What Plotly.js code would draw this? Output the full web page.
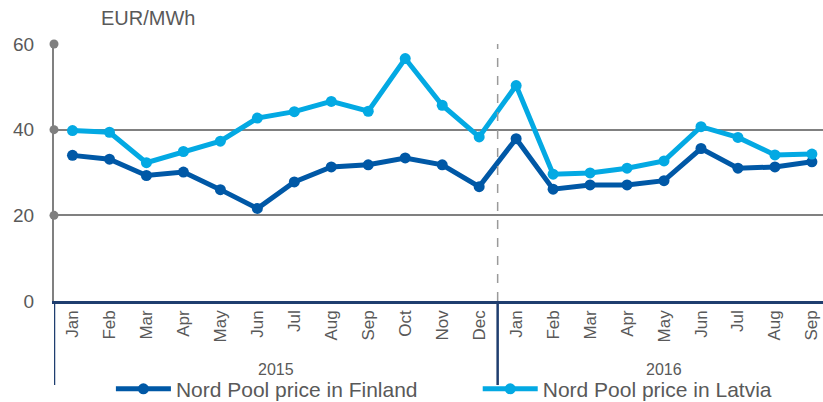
<!DOCTYPE html>
<html>
<head>
<meta charset="utf-8">
<script src="https://cdn.plot.ly/plotly-3.0.1.min.js"></script>
<style>html,body{margin:0;padding:0;background:#fff;}#chart{width:823px;height:402px;}</style>
</head>
<body>
<div id="chart"></div>
<script>
const months = ["Jan","Feb","Mar","Apr","May","Jun","Jul","Aug","Sep","Oct","Nov","Dec",
                "Jan","Feb","Mar","Apr","May","Jun","Jul","Aug","Sep"];
const years = ["2015","2016"];
const finland = [34.0,33.1,29.3,30.1,26.0,21.6,27.8,31.3,31.8,33.4,31.8,26.7,
                 37.9,26.1,27.1,27.1,28.1,35.6,31.0,31.3,32.5];
const latvia  = [39.8,39.4,32.3,34.9,37.3,42.7,44.2,46.6,44.3,56.6,45.7,38.3,
                 50.3,29.6,29.9,31.0,32.7,40.7,38.2,34.1,34.3];
const yTicks = [0,20,40,60];
const unit = "EUR/MWh";

const idx = months.map((m,i)=>i);
const gray = "#595959";
const navy = "#1F3E6F";

const traces = [
  {x: idx, y: finland, name: "Nord Pool price in Finland", mode: "lines+markers", legend: "legend",
   line: {color: "#0058A6", width: 5}, marker: {color: "#0058A6", size: 11}},
  {x: idx, y: latvia, name: "Nord Pool price in Latvia", mode: "lines+markers", legend: "legend2",
   line: {color: "#03A9E3", width: 5}, marker: {color: "#03A9E3", size: 11}},
  {x: yTicks.slice(1).map(()=>-0.5), y: yTicks.slice(1), mode: "markers", showlegend: false,
   hoverinfo: "skip", cliponaxis: false, marker: {color: "#7f7f7f", size: 9}}
];

const legendBase = {orientation: "h", xanchor: "left", yref: "container", y: 0.032, yanchor: "middle",
                    font: {size: 21, color: gray}, itemwidth: 55, bgcolor: "rgba(0,0,0,0)"};

const layout = {
  width: 823, height: 402,
  margin: {l: 54, r: 0, t: 44, b: 101},
  paper_bgcolor: "#fff", plot_bgcolor: "#fff",
  font: {family: "Liberation Sans, Arial, sans-serif", color: gray},
  showlegend: true,
  legend: Object.assign({}, legendBase, {x: 0.074}),
  legend2: Object.assign({}, legendBase, {x: 0.551}),
  xaxis: {range: [-0.5, 20.3], tickmode: "array", tickvals: idx, ticktext: months, tickangle: -90,
          tickfont: {size: 17, color: gray}, showgrid: false, zeroline: false,
          showline: true, linecolor: navy, linewidth: 2.5, ticks: "", fixedrange: true},
  yaxis: {range: [0, 60], tickvals: yTicks, ticktext: yTicks.map(String), showgrid: true,
          gridcolor: "#808080", gridwidth: 2, zeroline: false, showline: true, linecolor: "#808080",
          linewidth: 2, ticks: "", ticklabelstandoff: 14, tickfont: {size: 19, color: gray}, fixedrange: true},
  shapes: [
    {type: "line", xref: "x", yref: "y", x0: 11.5, x1: 11.5, y0: 0, y1: 60,
     line: {color: "#9a9a9a", width: 1.5, dash: "dash"}},
    {type: "line", xref: "x", yref: "paper", x0: -0.5, x1: -0.5, y0: 0, y1: -0.327,
     line: {color: navy, width: 2.5}},
    {type: "line", xref: "x", yref: "paper", x0: 11.5, x1: 11.5, y0: 0, y1: -0.327,
     line: {color: navy, width: 2.5}}
  ],
  annotations: [
    {text: unit, xref: "paper", yref: "paper", x: 0.058, y: 1.101, xanchor: "left", yanchor: "middle",
     showarrow: false, font: {size: 20, color: gray}},
    {text: years[0], xref: "x", yref: "paper", x: 5.5, y: -0.265, yanchor: "middle",
     showarrow: false, font: {size: 16, color: gray}},
    {text: years[1], xref: "x", yref: "paper", x: 16, y: -0.265, yanchor: "middle",
     showarrow: false, font: {size: 16, color: gray}}
  ]
};

Plotly.newPlot("chart", traces, layout, {displayModeBar: false, staticPlot: true});
</script>
</body>
</html>
